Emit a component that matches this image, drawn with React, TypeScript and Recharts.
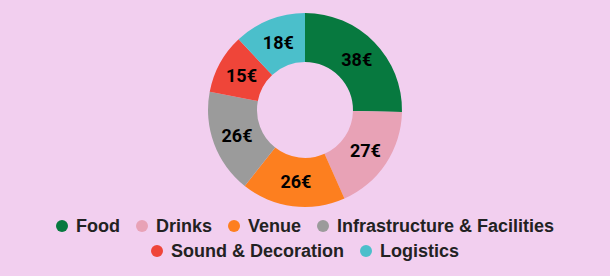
import { PieChart, Pie, Cell, Legend } from "recharts";

const categories = [
  "Food",
  "Drinks",
  "Venue",
  "Infrastructure & Facilities",
  "Sound & Decoration",
  "Logistics",
];
const amounts = [38, 27, 26, 26, 15, 18];
const COLORS = ["#07793f", "#e8a2b6", "#fd7f1f", "#9b9b9b", "#ef4539", "#4bbfcb"];

const data = categories.map((name, i) => ({ name, value: amounts[i] }));

const RADIAN = Math.PI / 180;

function renderLabel(props: any) {
  const { cx, cy, midAngle, innerRadius, outerRadius, value } = props;
  const r = (innerRadius + outerRadius) / 2;
  const x = cx + r * Math.cos(-midAngle * RADIAN);
  const y = cy + r * Math.sin(-midAngle * RADIAN);
  return (
    <text
      x={x}
      y={y}
      fill="#000"
      textAnchor="middle"
      dominantBaseline="central"
      style={{ fontFamily: "Roboto", fontWeight: 700, fontSize: 18 }}
    >
      {value}€
    </text>
  );
}

function LegendContent() {
  return (
    <div
      style={{
        display: "flex",
        flexWrap: "wrap",
        justifyContent: "center",
        maxWidth: 560,
        margin: "0 auto",
        rowGap: 3,
        fontFamily: "'Liberation Sans', Arial, sans-serif",
        fontWeight: 700,
        fontSize: 18,
        color: "#222",
      }}
    >
      {categories.map((name, i) => (
        <div
          key={name}
          style={{ display: "flex", alignItems: "center", margin: "0 8px", lineHeight: "22px" }}
        >
          <span
            style={{
              width: 12,
              height: 12,
              borderRadius: 6,
              background: COLORS[i],
              marginRight: 8,
              display: "inline-block",
            }}
          />
          {name}
        </div>
      ))}
    </div>
  );
}

export default function App() {
  return (
    <div style={{ width: 610, height: 276, background: "#f2cfef" }}>
      <style>{`body{margin:0}`}</style>
      <PieChart width={610} height={276} margin={{ top: 0, right: 0, bottom: 0, left: 0 }}>
        <Pie
          data={data}
          dataKey="value"
          nameKey="name"
          cx={305}
          cy={110}
          innerRadius={48}
          outerRadius={97}
          startAngle={90}
          endAngle={-270}
          stroke="none"
          label={renderLabel}
          labelLine={false}
          isAnimationActive={false}
        >
          {data.map((_, i) => (
            <Cell key={i} fill={COLORS[i]} />
          ))}
        </Pie>
        <Legend
          verticalAlign="bottom"
          content={<LegendContent />}
          wrapperStyle={{ bottom: 14 }}
        />
      </PieChart>
    </div>
  );
}
